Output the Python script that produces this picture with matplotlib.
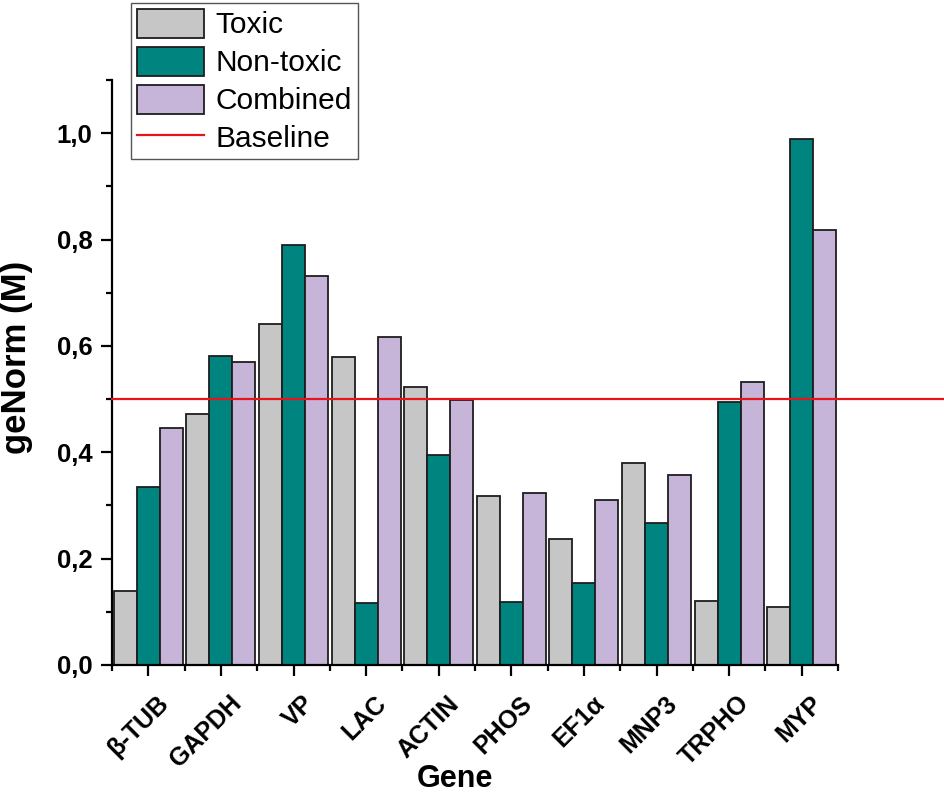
import matplotlib
matplotlib.use("Agg")
import matplotlib.pyplot as plt
import numpy as np
from matplotlib.ticker import FixedLocator
from matplotlib.transforms import ScaledTranslation

genes = ["β-TUB", "GAPDH", "VP", "LAC", "ACTIN", "PHOS", "EF1α", "MNP3", "TRPHO", "MYP"]
toxic = [0.139, 0.472, 0.642, 0.580, 0.523, 0.317, 0.237, 0.380, 0.120, 0.110]
non_toxic = [0.335, 0.581, 0.789, 0.116, 0.394, 0.118, 0.154, 0.267, 0.494, 0.989]
combined = [0.446, 0.570, 0.731, 0.617, 0.499, 0.323, 0.310, 0.358, 0.532, 0.818]
baseline = 0.5
series_names = ["Toxic", "Non-toxic", "Combined", "Baseline"]
yticks = [0.0, 0.2, 0.4, 0.6, 0.8, 1.0]
ytick_labels = ["0,0", "0,2", "0,4", "0,6", "0,8", "1,0"]

plt.rcParams['font.family'] = ['Liberation Sans', 'DejaVu Sans']

fig = plt.figure(figsize=(9.44, 7.96), dpi=100)
ax = fig.add_axes([112/944, 1-665/796, 726/944, 585/796])

x = np.arange(len(genes))
w = 0.317
cols = ["#C6C6C6", "#008480", "#C6B5D8"]
edge = "#1e1e1e"
b1 = ax.bar(x - w, toxic, w, color=cols[0], edgecolor=edge, linewidth=1.3, label=series_names[0])
b2 = ax.bar(x, non_toxic, w, color=cols[1], edgecolor=edge, linewidth=1.3, label=series_names[1])
b3 = ax.bar(x + w, combined, w, color=cols[2], edgecolor=edge, linewidth=1.3, label=series_names[2])
ln = ax.axhline(baseline, xmin=0, xmax=(944-112)/726, color="#E8141B", linewidth=1.6,
                clip_on=False, label=series_names[3], zorder=5)

ax.set_xlim(-0.5, len(genes) - 0.5)
ax.set_ylim(0, 1.1)
ax.spines['top'].set_visible(False)
ax.spines['right'].set_visible(False)
for s in ['left', 'bottom']:
    ax.spines[s].set_linewidth(1.6)

ax.set_yticks(yticks)
ax.set_yticklabels(ytick_labels, fontsize=18.5, fontweight='bold')
ax.yaxis.set_minor_locator(FixedLocator([0.1, 0.3, 0.5, 0.7, 0.9, 1.1]))
ax.set_xticks(x)
ax.set_xticklabels(genes, fontsize=18, fontweight='bold', rotation=45,
                   ha='right', va='center', rotation_mode='anchor')
ax.xaxis.set_minor_locator(FixedLocator(np.arange(-0.5, len(genes), 1.0)))
ax.tick_params(which='major', length=8, width=1.6, direction='out')
ax.tick_params(which='minor', length=4.5, width=1.6, direction='out')
ax.tick_params(axis='x', which='major', pad=17)
ax.tick_params(axis='y', which='major', pad=6)

ax.set_ylabel("geNorm (M)", fontsize=25, fontweight='bold')
ax.yaxis.set_label_coords(-0.109, 0.5265)
ax.set_xlabel("Gene", fontsize=22, fontweight='bold')
ax.xaxis.set_label_coords(0.472, -0.17)

leg = fig.legend(handles=[b1, b2, b3, ln], labels=series_names, loc='upper left',
                 bbox_to_anchor=(131/944, 1-3/796), bbox_transform=fig.transFigure,
                 borderaxespad=0, fontsize=21.5, handlelength=2.24, handleheight=1.1,
                 labelspacing=0.25, handletextpad=0.4, borderpad=0.2, fancybox=False,
                 framealpha=1, edgecolor="#555555")
leg.get_frame().set_linewidth(1.0)

off = ScaledTranslation(12/72, 0, fig.dpi_scale_trans)
for lab in ax.get_xticklabels():
    lab.set_transform(lab.get_transform() + off)

fig.savefig("out.png", dpi=100)
